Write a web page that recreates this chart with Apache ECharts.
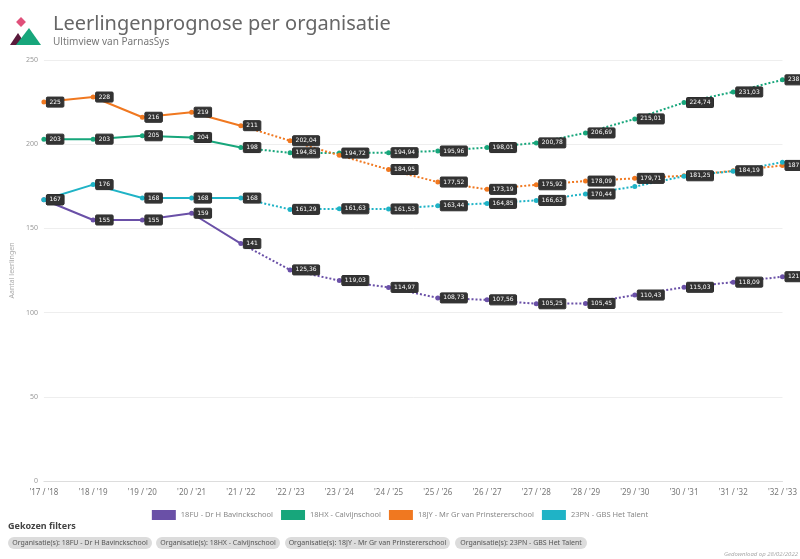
<!DOCTYPE html>
<html>
<head>
<meta charset="utf-8">
<script src="https://cdn.jsdelivr.net/npm/echarts@6/dist/echarts.min.js"></script>
<style>
  html, body { margin: 0; padding: 0; background: #fff; }
  #chart { width: 800px; height: 559px; }
</style>
</head>
<body>
<div id="chart"></div>
<script>
    // schooljaren
    var years = ["'17 / '18", "'18 / '19", "'19 / '20", "'20 / '21", "'21 / '22", "'22 / '23", "'23 / '24", "'24 / '25",
        "'25 / '26", "'26 / '27", "'27 / '28", "'28 / '29", "'29 / '30", "'30 / '31", "'31 / '32", "'32 / '33"];
    var yTicks = [0, 50, 100, 150, 200, 250];

    var schools = ['18FU - Dr H Bavinckschool', '18HX - Calvijnschool', '18JY - Mr Gr van Prinstererschool', '23PN - GBS Het Talent'];
    var colors = ['#6a50a7', '#17a67b', '#f07820', '#1fb3c6'];

    // werkelijke aantallen ('17/'18 t/m '21/'22)
    var actualFU = [167, 155, 155, 159, 141];
    var actualHX = [203, 203, 205, 204, 198];
    var actualJY = [225, 228, 216, 219, 211];
    var actualPN = [167, 176, 168, 168, 168];

    // prognose ('22/'23 t/m '32/'33)
    var prognoseFU = [125.36, 119.03, 114.97, 108.73, 107.56, 105.25, 105.45, 110.43, 115.03, 118.09, 121.3];
    var prognoseHX = [194.85, 194.72, 194.94, 195.96, 198.01, 200.78, 206.69, 215.01, 224.74, 231.03, 238.2];
    var prognoseJY = [202.04, 193.4, 184.95, 177.52, 173.19, 175.92, 178.09, 179.71, 181.25, 184.19, 187.4];
    var prognosePN = [161.29, 161.63, 161.53, 163.44, 164.85, 166.63, 170.44, 174.82, 181.0, 184.0, 189.3];

    var actuals = [actualFU, actualHX, actualJY, actualPN];
    var prognoses = [prognoseFU, prognoseHX, prognoseJY, prognosePN];

    function fmt(v) {
        if (Math.round(v) === v) return String(v);
        return v.toFixed(2).replace('.', ',');
    }

    var labelStyle = {
        show: true,
        position: 'right',
        distance: 0,
        color: '#fff',
        fontSize: 6,
        fontFamily: 'DejaVu Sans',
        backgroundColor: '#333',
        borderColor: '#222',
        borderWidth: 0.5,
        borderRadius: 1,
        padding: [2, 3],
        formatter: function (p) { return fmt(p.value); }
    };

    var series = [];
    schools.forEach(function (name, i) {
        var a = actuals[i], p = prognoses[i];
        series.push({
            name: name,
            type: 'line',
            data: a,
            symbol: 'circle',
            symbolSize: 5,
            lineStyle: { width: 2, color: colors[i] },
            itemStyle: { color: colors[i] },
            label: labelStyle,
            z: 3
        });
        var fc = [];
        for (var k = 0; k < a.length - 1; k++) fc.push(null);
        fc.push({ value: a[a.length - 1], label: { show: false }, symbolSize: 0 });
        p.forEach(function (v) { fc.push(v); });
        series.push({
            name: name,
            type: 'line',
            data: fc,
            symbol: 'circle',
            symbolSize: 5,
            lineStyle: { width: 2, color: colors[i], type: [2, 2] },
            itemStyle: { color: colors[i] },
            label: labelStyle,
            labelLayout: { hideOverlap: true },
            z: 2
        });
    });

    var chips = schools.map(function (s) { return 'Organisatie(s): ' + s; });
    var chipX = [8, 156, 285, 455];
    var chipW = [144, 124, 165, 132];

    var graphics = [
        // logo
        { type: 'polygon', shape: { points: [[10, 45], [18, 33], [26, 45]] }, style: { fill: '#5a1a3c' } },
        { type: 'polygon', shape: { points: [[16, 45], [29, 28], [41, 45]] }, style: { fill: '#17a67b' } },
        { type: 'rect', shape: { x: -3.5, y: -3.5, width: 7, height: 7 }, x: 21, y: 22, rotation: Math.PI / 4, style: { fill: '#e0507a' } },
        { type: 'text', left: 8, top: 522, style: { text: 'Gekozen filters', fontSize: 9, fontWeight: 'bold', fill: '#444', fontFamily: 'Noto Sans' } },
        { type: 'text', right: 2, top: 551, style: { text: 'Gedownload op 28/02/2022', fontSize: 6, fontStyle: 'italic', fill: '#aaa', fontFamily: 'Noto Sans' } }
    ];
    chips.forEach(function (t, i) {
        graphics.push({ type: 'rect', shape: { x: chipX[i], y: 537, width: chipW[i], height: 12, r: 6 }, style: { fill: '#dcdcdc' } });
        graphics.push({ type: 'text', x: chipX[i] + chipW[i] / 2, y: 543, style: { text: t, fontSize: 7, fill: '#555', align: 'center', verticalAlign: 'middle', fontFamily: 'Noto Sans' } });
    });

    var myChart = echarts.init(document.getElementById('chart'));
    myChart.setOption({
        animation: false,
        color: colors,
        title: {
            text: 'Leerlingenprognose per organisatie',
            subtext: 'Ultimview van ParnasSys',
            left: 48,
            top: 9,
            itemGap: 3,
            textStyle: { fontSize: 20, fontWeight: 'normal', color: '#666', fontFamily: 'Noto Sans' },
            subtextStyle: { fontSize: 10, color: '#777', fontFamily: 'Noto Sans' }
        },
        legend: {
            data: schools,
            left: 'center',
            top: 505,
            itemWidth: 24,
            itemHeight: 10,
            itemGap: 8,
            icon: 'rect',
            textStyle: { fontSize: 7.5, color: '#888', fontFamily: 'Noto Sans' }
        },
        grid: { left: 42, right: 10, top: 60, bottom: 78 },
        xAxis: {
            type: 'category',
            data: years,
            boundaryGap: false,
            axisLine: { lineStyle: { color: '#ddd' } },
            axisTick: { show: false },
            axisLabel: { fontSize: 8, color: '#777', margin: 8, fontFamily: 'Noto Sans', interval: 0 }
        },
        yAxis: {
            type: 'value',
            min: yTicks[0],
            max: yTicks[yTicks.length - 1],
            interval: 50,
            name: 'Aantal leerlingen',
            nameLocation: 'middle',
            nameGap: 22,
            nameTextStyle: { fontSize: 7, color: '#aaa', fontFamily: 'Noto Sans' },
            axisLabel: { fontSize: 7, color: '#999', margin: 6, fontFamily: 'Noto Sans' },
            splitLine: { lineStyle: { color: '#eee' } }
        },
        graphic: graphics,
        series: series
    });
</script>
</body>
</html>
